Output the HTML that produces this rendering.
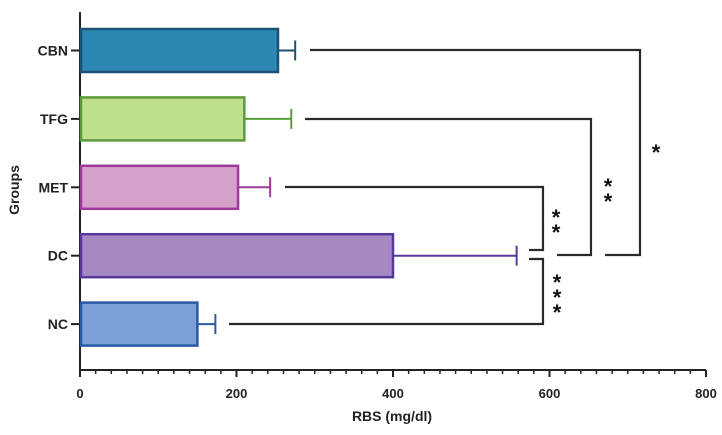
<!DOCTYPE html>
<html><head><meta charset="utf-8"><style>
body{margin:0;background:#fff;}
svg{display:block;font-family:"Liberation Sans",Arial,sans-serif;}
</style></head><body>
<svg id="chart" width="722" height="435"></svg>
<script>
const categories=["CBN","TFG","MET","DC","NC"];
const means=[253,210,202,400,150];
const errs=[22,60,41,158,23];
const fills=["#2d87b3","#c0df8c","#d79fcb","#a689c2","#7b9fd7"];
const strokes=["#1b5275","#5a9b3c","#9b3a98","#57399b","#2a5aa3"];
const xTicks=[0,200,400,600,800];
const NS="http://www.w3.org/2000/svg";
const svg=document.getElementById("chart");
const x=v=>80+v*0.7825;
const y=i=>50.5+i*68.4;
const barH=43;
function mk(t,a,p){const e=document.createElementNS(NS,t);for(const k in a)e.setAttribute(k,a[k]);(p||svg).appendChild(e);return e;}
// axes
let ya=mk("line",{x1:80,y1:12,x2:80,y2:371,stroke:"#222","stroke-width":2});


let xa=mk("line",{x1:79,y1:370,x2:x(800),y2:370,stroke:"#222","stroke-width":2});


for(let v=0;v<=800;v+=20){
  const major=v%200===0;
  mk("line",{x1:x(v),y1:370,x2:x(v),y2:major?377:374,stroke:"#222","stroke-width":major?2:1.5});
}
xTicks.forEach(v=>{
  const t=mk("text",{x:x(v),y:398,"text-anchor":"middle","font-size":13,"font-weight":"bold",fill:"#222"});
  t.textContent=v;
  
  
});
categories.forEach((c,i)=>{
  const cy=y(i);
  mk("line",{x1:71,y1:cy,x2:80,y2:cy,stroke:"#222","stroke-width":2});
  const t=mk("text",{x:68,y:cy+5,"text-anchor":"end","font-size":14,"font-weight":"bold",fill:"#222"});
  t.textContent=c;
  
  
  const r=mk("rect",{x:x(0)+1,y:cy-barH/2,width:x(means[i])-x(0)-1,height:barH,fill:fills[i],stroke:strokes[i],"stroke-width":2.5});
  
  
  const g=mk("g",{stroke:strokes[i],"stroke-width":2});
  
  
  mk("line",{x1:x(means[i]),y1:cy,x2:x(means[i]+errs[i]),y2:cy},g);
  mk("line",{x1:x(means[i]+errs[i]),y1:cy-10,x2:x(means[i]+errs[i]),y2:cy+10},g);
});
const xl=mk("text",{x:392,y:421,"text-anchor":"middle","font-size":14,"font-weight":"bold",fill:"#222"});
xl.textContent="RBS (mg/dl)";


const yl=mk("text",{x:0,y:0,transform:"translate(19,190) rotate(-90)","text-anchor":"middle","font-size":14,"font-weight":"bold",fill:"#222"});
yl.textContent="Groups";


// significance brackets
const br=[
 {n:"bracket-cbn-dc",p:"M310 50 H640 V255 H605",s:"*",sx:656,sy:[160]},
 {n:"bracket-tfg-dc",p:"M305 119 H591 V255 H557",s:"**",sx:608,sy:[194,209]},
 {n:"bracket-met-dc",p:"M285 187 H543 V250 H529",s:"**",sx:556,sy:[225,240]},
 {n:"bracket-nc-dc",p:"M229 324 H543 V259 H529",s:"***",sx:557,sy:[290,305,320]}
];
br.forEach(b=>{
  const p=mk("path",{d:b.p,fill:"none",stroke:"#2a2a2a","stroke-width":2.2});
  
  
  b.sy.forEach(yy=>{
    const t=mk("text",{x:b.sx,y:yy,"text-anchor":"middle","font-size":22,"font-weight":"bold",fill:"#111"});
    t.textContent="*";
    
    
  });
});
</script>
</body></html>
